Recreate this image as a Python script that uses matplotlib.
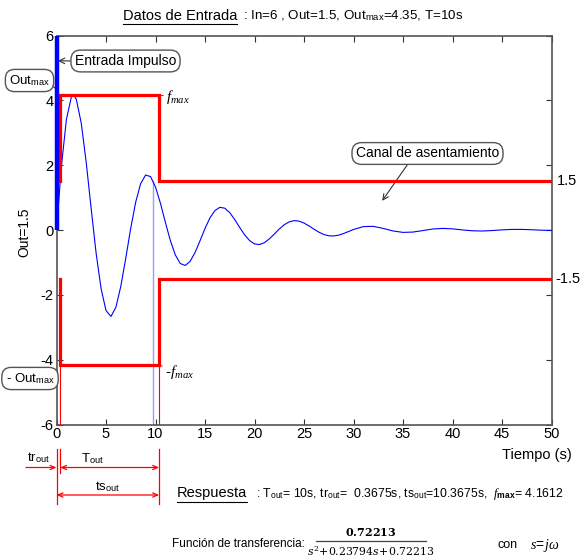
import matplotlib
matplotlib.use('Agg')
import matplotlib.pyplot as plt
from matplotlib import transforms
import numpy as np

plt.rcParams['font.family'] = ['Liberation Sans', 'DejaVu Sans']
plt.rcParams['axes.unicode_minus'] = False
plt.rcParams['mathtext.fontset'] = 'custom'
plt.rcParams['mathtext.rm'] = 'Liberation Sans'
plt.rcParams['mathtext.it'] = 'Liberation Serif:italic'
plt.rcParams['mathtext.bf'] = 'Liberation Sans:bold'

# ---------------- data ----------------
In_amp = 6
Out = 1.5
Outmax = 4.35
T = 10
T_out = 10
tr_out = 0.3675
ts_out = 10.3675
fmax = 4.1612
t_exit = 9.73          # last crossing of the settling band
t_end = 50
num_tf = '0.72213'
den_tf = ['0.23794', '0.72213']

t_resp = [0, 0.5, 1.0, 1.5, 1.75, 2.0, 2.5, 3.0, 3.5, 4.0, 4.5, 5.0, 5.5, 6.0, 6.5, 7.0,
          7.5, 8.0, 8.5, 9.0, 9.5, 10.0, 10.5, 11.0, 11.5, 12.0, 12.5, 13.0, 13.5,
          14.0, 14.5, 15.0, 15.5, 16.0, 16.5, 17.0, 17.5, 18.0, 18.5, 19.0, 19.5,
          20.0, 20.5, 21.0, 21.5, 22.0, 22.5, 23.0, 23.5, 24.0, 24.5, 25.0, 25.5,
          26.0, 26.5, 27.0, 27.5, 28.0, 28.5, 29.0, 29.5, 30.0,
          31, 32, 33, 34, 35, 36, 37, 38, 39, 40, 41, 42, 43, 44, 45, 46, 47, 48, 49, 50]
y_resp = [0, 1.982, 3.409, 4.105, 4.161, 4.033, 3.296, 2.089, 0.663, -0.710, -1.804,
          -2.485, -2.667, -2.382, -1.731, -0.864, 0.058, 0.861, 1.430, 1.696, 1.647,
          1.328, 0.822, 0.234, -0.326, -0.768, -1.033, -1.094, -0.968, -0.690, -0.331,
          0.047, 0.373, 0.599, 0.700, 0.672, 0.535, 0.323, 0.081, -0.148, -0.326,
          -0.429, -0.449, -0.392, -0.274, -0.125, 0.029, 0.161, 0.251, 0.289, 0.274,
          0.215, 0.126, 0.027, -0.066, -0.138, -0.178, -0.184, -0.159, -0.109, -0.047,
          0.016,
          0.105, 0.112, 0.049, -0.030, -0.074, -0.064, -0.018, 0.030, 0.049, 0.035,
          0.002, -0.024, -0.031, -0.017, 0.004, 0.018, 0.018, 0.008, -0.006, -0.013]

x_ticks = [0, 5, 10, 15, 20, 25, 30, 35, 40, 45, 50]
y_ticks = [-6, -4, -2, 0, 2, 4, 6]

# ---------------- figure ----------------
W, H = 582, 557
fig = plt.figure(figsize=(W / 100, H / 100), dpi=100)

def fx(px):
    return px / W

def fy(py):
    return 1 - py / H

ax = fig.add_axes([fx(56.5), fy(424.5), (551.5 - 56.5) / W, (424.5 - 35.5) / H])
ax.set_xlim(0, 50)
ax.set_ylim(-6, 6)
ax.set_xticks(x_ticks)
ax.set_yticks(y_ticks)
ax.tick_params(direction='in', top=True, right=True, length=4, width=0.8,
               labelsize=10.5, pad=2, color='#333333')
for s in ax.spines.values():
    s.set_color('#555555')
    s.set_linewidth(1.2)

red = '#ff0000'
blue = '#0000ff'

# response curve
ax.plot(t_resp, y_resp, color=blue, lw=0.8, zorder=3)

# settling channel (upper and lower)
ax.plot([tr_out, tr_out, ts_out, ts_out, t_end], [Out, fmax, fmax, Out, Out],
        color=red, lw=2.3, zorder=4, solid_joinstyle='miter')
ax.plot([tr_out, tr_out, ts_out, ts_out, t_end], [-Out, -fmax, -fmax, -Out, -Out],
        color=red, lw=2.3, zorder=4, solid_joinstyle='miter')
# thin guide lines
ax.plot([tr_out, tr_out], [-fmax, -6], color=red, lw=0.8, zorder=4)
ax.plot([ts_out, ts_out], [-fmax, -6], color=red, lw=0.8, zorder=4)
ax.plot([t_exit, t_exit], [Out, -6], color='#9a9aff', lw=1.0, zorder=2)

# impulse input
ax.plot([0, 0], [0, In_amp], color=blue, lw=3.2, zorder=5, clip_on=False,
        solid_capstyle='butt')

box = dict(boxstyle='round,pad=0.28,rounding_size=0.7', fc='white', ec='#555555', lw=1)

ax.annotate('Entrada Impulso', xy=(0.15, 5.22), xycoords='data',
            xytext=(fx(125.5), fy(61)), textcoords='figure fraction',
            ha='center', va='center', fontsize=10, bbox=box,
            arrowprops=dict(arrowstyle='->', color='#333333', lw=0.8,
                            shrinkA=0, shrinkB=0, relpos=(0, 0.5)))

ax.annotate('Canal de asentamiento', xy=(32.9, 0.9), xycoords='data',
            xytext=(fx(427.5), fy(153.5)), textcoords='figure fraction',
            ha='center', va='center', fontsize=10, bbox=box,
            arrowprops=dict(arrowstyle='->', color='#333333', lw=0.8,
                            shrinkA=0, shrinkB=0, relpos=(0.38, 0)))

ax.annotate('Out$_{\\mathrm{max}}$', xy=(0, Outmax), xycoords='data',
            xytext=(fx(29.5), fy(80.5)), textcoords='figure fraction',
            ha='center', va='center', fontsize=9.5, bbox=box,
            arrowprops=dict(arrowstyle='-', color='#333333', lw=0.8,
                            shrinkA=0, shrinkB=0, relpos=(1, 0.25)),
            annotation_clip=False)

ax.annotate('- Out$_{\\mathrm{max}}$', xy=(0, -Outmax), xycoords='data',
            xytext=(fx(30), fy(378.5)), textcoords='figure fraction',
            ha='center', va='center', fontsize=9.5, bbox=box,
            arrowprops=dict(arrowstyle='-', color='#333333', lw=0.8,
                            shrinkA=0, shrinkB=0, relpos=(1, 0.75)),
            annotation_clip=False)

ax.annotate('$f_{max}$', xy=(ts_out, fmax), xycoords='data',
            xytext=(fx(166), fy(97)), textcoords='figure fraction',
            ha='left', va='center', fontsize=11,
            arrowprops=dict(arrowstyle='-', color=red, lw=0.7, shrinkA=0, shrinkB=0))
ax.annotate('-$f_{max}$', xy=(ts_out, -fmax), xycoords='data',
            xytext=(fx(165), fy(372)), textcoords='figure fraction',
            ha='left', va='center', fontsize=11,
            arrowprops=dict(arrowstyle='-', color=red, lw=0.7, shrinkA=0, shrinkB=0))

# right side band labels
trans_fy = transforms.blended_transform_factory(fig.transFigure, ax.transData)
ax.text(fx(557), Out, '%g' % Out, transform=trans_fy, ha='left', va='center', fontsize=10.5)
ax.text(fx(555), -Out, '%g' % -Out, transform=trans_fy, ha='left', va='center', fontsize=10.5)

# axis labels
fig.text(fx(24), fy(232), 'Out=%g' % Out, rotation=90, ha='center', va='center', fontsize=10)
fig.text(fx(572), fy(455), 'Tiempo (s)', ha='right', va='center', fontsize=10.5)

# ---------------- time annotations below the axes ----------------
trans_xd = transforms.blended_transform_factory(ax.transData, fig.transFigure)
for xv, y0, y1 in [(0, 449, 504), (tr_out, 449, 473), (ts_out, 449, 504)]:
    ax.plot([xv, xv], [fy(y0), fy(y1)], color=red, lw=0.9, transform=trans_xd, clip_on=False)

arr = dict(color=red, lw=0.9, shrinkA=0, shrinkB=0)
ax.annotate('', xy=(0, fy(467.5)), xycoords=trans_xd,
            xytext=(fx(26), fy(467.5)), textcoords='figure fraction',
            arrowprops=dict(arrowstyle='->,head_length=0.35,head_width=0.15', **arr),
            annotation_clip=False)
ax.annotate('', xy=(ts_out, fy(467.5)), xycoords=trans_xd,
            xytext=(tr_out, fy(467.5)), textcoords=trans_xd,
            arrowprops=dict(arrowstyle='<->,head_length=0.35,head_width=0.15', **arr),
            annotation_clip=False)
ax.annotate('', xy=(ts_out, fy(495)), xycoords=trans_xd,
            xytext=(0, fy(495)), textcoords=trans_xd,
            arrowprops=dict(arrowstyle='<->,head_length=0.35,head_width=0.15', **arr),
            annotation_clip=False)

fig.text(fx(39), fy(458), 'tr$_{\\mathrm{out}}$', ha='center', va='center', fontsize=9.5)
fig.text(fx(92.5), fy(459), 'T$_{\\mathrm{out}}$', ha='center', va='center', fontsize=9.5)
fig.text(fx(107.5), fy(487), 'ts$_{\\mathrm{out}}$', ha='center', va='center', fontsize=9.5)

# ---------------- title and result lines ----------------
t1 = fig.text(fx(123), fy(19.5), 'Datos de Entrada', ha='left', va='baseline', fontsize=10.5)
fig.text(fx(243), fy(19.5),
         ': In=%g , Out=%g, Out$_{\\mathrm{max}}$=%g, T=%gs' % (In_amp, Out, Outmax, T),
         ha='left', va='baseline', fontsize=9.6)

t2 = fig.text(fx(177), fy(497.5), 'Respuesta', ha='left', va='baseline', fontsize=10.5)
fig.text(fx(256), fy(497.5),
         ': T$_{\\mathrm{out}}$= %gs, tr$_{\\mathrm{out}}$=  %gs, ts$_{\\mathrm{out}}$=%gs,  '
         '$f_{\\mathbf{max}}$= %g' % (T_out, tr_out, ts_out, fmax),
         ha='left', va='baseline', fontsize=8.8)

# transfer function
fig.text(fx(172), fy(544), 'Función de transferencia:', ha='left', va='center', fontsize=8.5)
fig.text(fx(371), fy(532), '$\\mathbf{%s}$' % num_tf, ha='center', va='center',
         fontsize=8, math_fontfamily='dejavuserif')
fig.add_artist(plt.Line2D([fx(316), fx(426)], [fy(540.5), fy(540.5)], color='#444444',
                          lw=0.9, transform=fig.transFigure))
fig.text(fx(371), fy(551), '$s^2\\!+\\!%s s\\!+\\!%s$' % (den_tf[0], den_tf[1]),
         ha='center', va='center', fontsize=7.8, math_fontfamily='dejavuserif')
fig.text(fx(497), fy(545), 'con', ha='left', va='center', fontsize=9)
fig.text(fx(530), fy(545), r'$s\!=\!j\omega$', ha='left', va='center', fontsize=10)

# underline titles
fig.canvas.draw()
r = fig.canvas.get_renderer()
for txt in (t1, t2):
    bb = txt.get_window_extent(renderer=r)
    yb = bb.y0 - 1.0
    fig.add_artist(plt.Line2D([bb.x0 / W, bb.x1 / W], [yb / H, yb / H],
                              color='black', lw=0.8, transform=fig.transFigure))

fig.savefig('out.png', dpi=100)
